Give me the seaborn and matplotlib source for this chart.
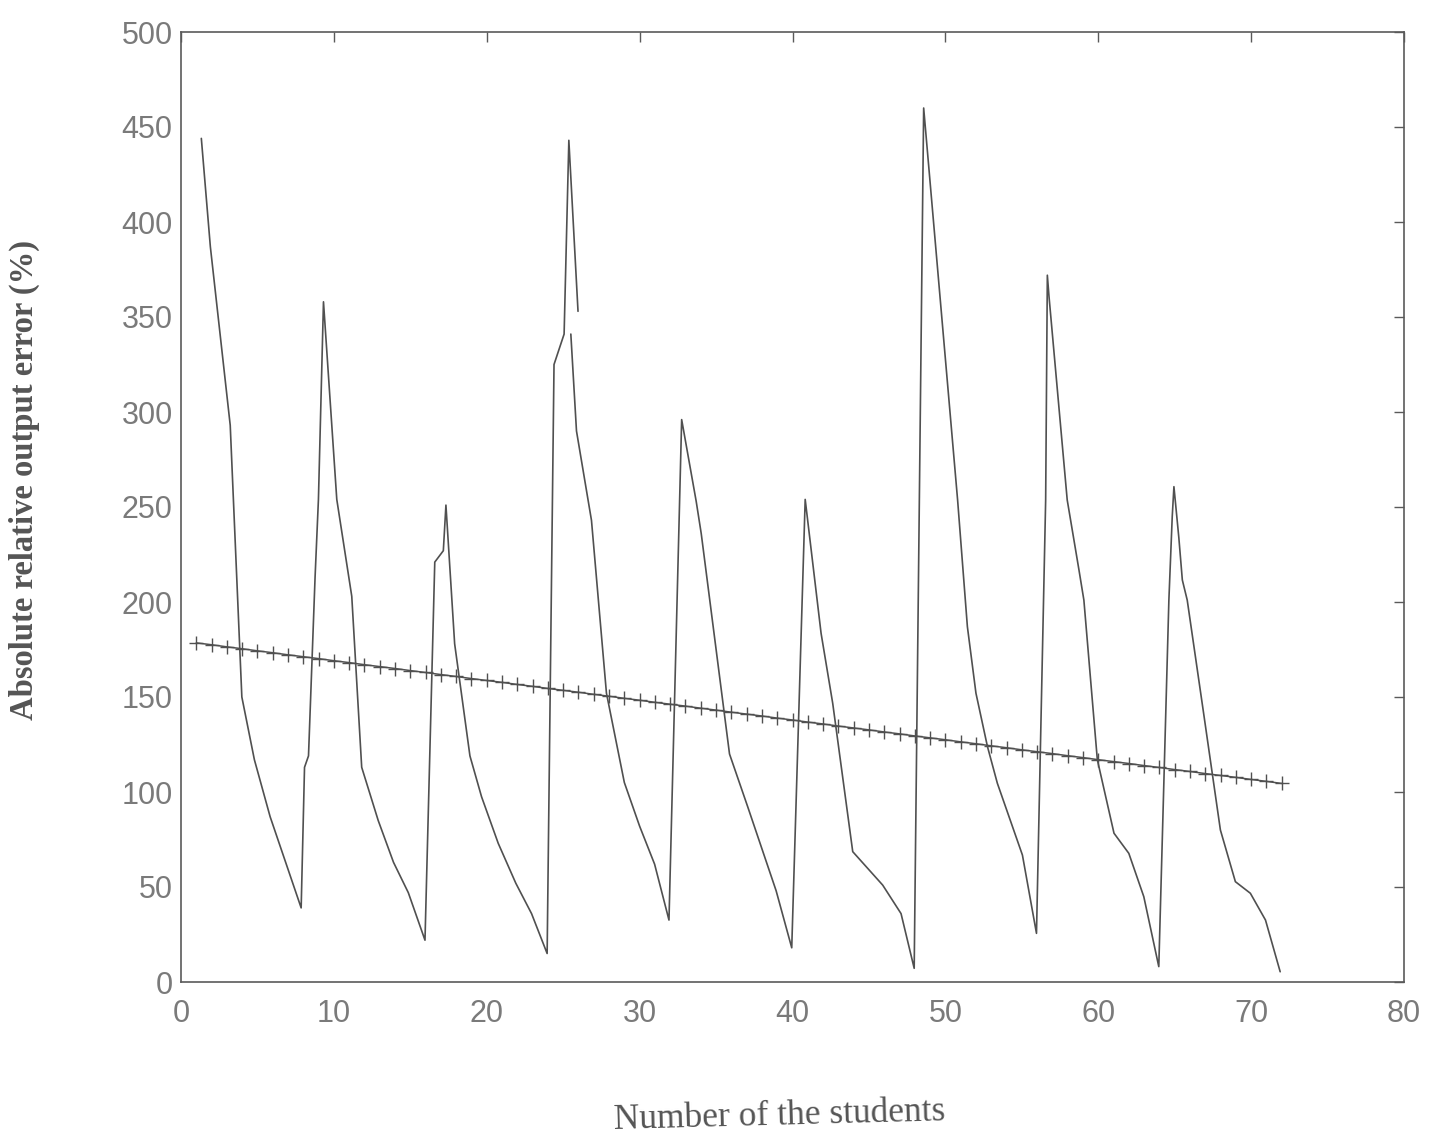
import matplotlib
matplotlib.use("Agg")
import matplotlib.pyplot as plt
import numpy as np
import pandas as pd
import seaborn as sns

# Absolute relative output error per student (piecewise traces)
err_x_main = [1.33, 1.92, 3.22, 3.98, 4.8, 5.83, 7.86,
              8.08, 8.34, 8.77, 8.99, 9.32,
              10.19, 11.17, 11.82, 12.9, 13.9, 14.87, 15.96,
              16.6, 17.16, 17.33,
              17.9, 18.9, 19.66, 20.75, 21.9, 22.93, 23.95,
              24.4, 25.06, 25.37, 25.97]
err_y_main = [444, 387, 293, 150, 117, 87, 39,
              113, 119, 213, 254, 358,
              254, 203, 113, 85, 63, 47, 22,
              221, 227, 251,
              178, 119, 97.5, 73, 52, 36, 15,
              325, 341, 443, 353]

err_x_tail = [25.5, 25.87, 26.85, 27.83, 29.0, 30.0, 30.98, 31.92,
              32.75, 33.7, 34.03, 35.88, 37.08, 38.93, 39.95,
              40.83, 41.87, 42.63, 43.94, 45.9, 47.1, 47.96,
              48.58, 50.8, 51.44, 52.0, 52.75, 53.4, 55.04, 55.96,
              56.56, 56.67, 56.78, 57.97, 58.74, 59.06, 59.94, 61.03, 62.0, 62.98, 63.96,
              64.62, 64.84, 64.95, 65.27, 65.5, 65.82, 66.9, 67.99, 68.97, 69.95, 70.94, 71.9]
err_y_tail = [341, 290, 243, 152, 105, 82, 62, 32.6,
              296, 253, 236, 120, 92, 48, 18,
              254, 183.5, 146.7, 68.6, 51, 36, 7.2,
              460, 253.7, 187, 152, 124, 104.6, 66.8, 25.6,
              253.7, 372, 360.7, 253.7, 216.8, 201, 117, 78.3, 67.7, 44.9, 8.1,
              201, 245, 260.7, 234, 211.6, 201, 141, 80, 52.8, 46.7, 32.6, 5.4]

# Fitted trend, one value per student
students = list(range(1, 73))
trend = [178.5, 177.5, 176.4, 175.4, 174.3, 173.3, 172.2, 171.2, 170.2, 169.1,
         168.1, 167.0, 166.0, 165.0, 163.9, 162.9, 161.8, 160.8, 159.7, 158.7,
         157.7, 156.6, 155.6, 154.5, 153.5, 152.5, 151.4, 150.4, 149.3, 148.3,
         147.2, 146.2, 145.2, 144.1, 143.1, 142.0, 141.0, 140.0, 138.9, 137.9,
         136.8, 135.8, 134.7, 133.7, 132.7, 131.6, 130.6, 129.5, 128.5, 127.5,
         126.4, 125.4, 124.3, 123.3, 122.2, 121.2, 120.2, 119.1, 118.1, 117.0,
         116.0, 115.0, 113.9, 112.9, 111.8, 110.8, 109.7, 108.7, 107.7, 106.6,
         105.6, 104.5]

x_ticks = [0, 10, 20, 30, 40, 50, 60, 70, 80]
y_ticks = [0, 50, 100, 150, 200, 250, 300, 350, 400, 450, 500]

sns.set_style("white")
plt.rcParams["font.family"] = ["Liberation Sans", "DejaVu Sans"]

err = pd.DataFrame({
    "x": err_x_main + err_x_tail,
    "y": err_y_main + err_y_tail,
    "seg": [0] * len(err_x_main) + [1] * len(err_x_tail),
})
fit = pd.DataFrame({"x": students, "y": trend})

fig = plt.figure(figsize=(14.29, 11.42), dpi=100)
ax = fig.add_axes([181 / 1429, 1 - 982 / 1142, (1404 - 181) / 1429, (982 - 32) / 1142])

line_col = "#505050"
sns.lineplot(data=err, x="x", y="y", units="seg", estimator=None, sort=False,
             color=line_col, linewidth=1.2, ax=ax)
sns.lineplot(data=fit, x="x", y="y", estimator=None, sort=False,
             color=line_col, linewidth=1.1, marker="+", markersize=10,
             markeredgewidth=1.0, markeredgecolor=line_col, ax=ax)

ax.set_xlim(0, 80)
ax.set_ylim(0, 500)
ax.set_xticks(x_ticks)
ax.set_yticks(y_ticks)
ax.set_xticklabels([str(v) for v in x_ticks])
ax.set_yticklabels([str(v) for v in y_ticks])

for s in ax.spines.values():
    s.set_color("#5a5a5a")
    s.set_linewidth(1.2)

ax.tick_params(axis="both", which="major", direction="in", length=7, width=1.0,
               color="#5a5a5a", top=True, right=True,
               labelsize=22, labelcolor="#7a7a7a")
ax.tick_params(axis="x", pad=12)
ax.tick_params(axis="y", pad=6)

ax.set_xlabel("Number of the students", family=["Liberation Serif", "DejaVu Serif"],
              fontsize=25.5, color="#555555", rotation=1.5)
ax.set_ylabel("Absolute relative output error (%)", family=["Liberation Serif", "DejaVu Serif"],
              fontsize=23.5, fontweight="bold", color="#555555")
ax.xaxis.set_label_coords(0.489, -0.119)
ax.yaxis.set_label_coords(-0.115, 0.528)

fig.savefig("out.png", dpi=100, facecolor="white")
